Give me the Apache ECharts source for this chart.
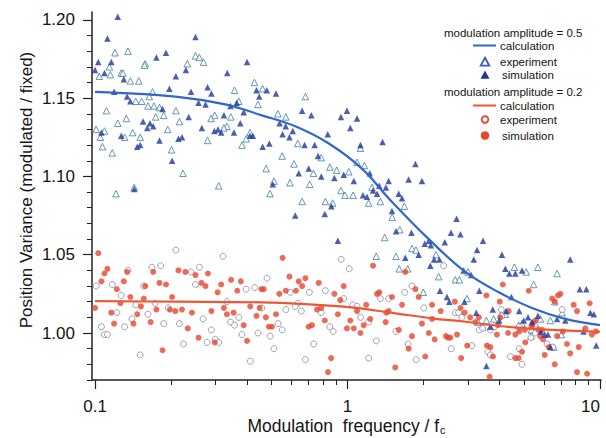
<!DOCTYPE html>
<html>
<head>
<meta charset="utf-8">
<script src="https://cdn.jsdelivr.net/npm/echarts@6/dist/echarts.min.js"></script>
<style>
html,body{margin:0;padding:0;background:#fff;}
#chart{width:606px;height:438px;}
</style>
</head>
<body>
<div id="chart"></div>
<script>
// ---------- data (frequency / f_c, position variance ratio) ----------
const xTickValues = [0.1, 1, 10];
const xTickLabels = ['0.1', '1', '10'];
const yTickValues = [1.00, 1.05, 1.10, 1.15, 1.20];
const yTickLabels = ['1.00', '1.05', '1.10', '1.15', '1.20'];

const blueCalc = [[0.100,1.154],[0.208,1.151],[0.328,1.146],[0.458,1.139],[0.621,1.132],[0.843,1.121],[1.140,1.105],[1.476,1.085],[2.128,1.059],[2.931,1.039],[3.972,1.026],[5.38,1.016],[7.29,1.009],[10.0,1.005]];
const redCalc = [[0.100,1.0204],[0.208,1.0200],[0.458,1.0196],[0.966,1.0168],[1.545,1.0126],[2.163,1.0094],[2.931,1.0072],[3.972,1.0045],[5.38,1.0027],[10.0,1.0008]];

const blueSim = [
[0.123,1.202],[0.112,1.188],[0.250,1.189],[0.191,1.179],[0.175,1.176],[0.103,1.173],[0.116,1.173],[0.100,1.168],[0.109,1.166],[0.130,1.162],
[0.229,1.168],[0.209,1.164],[0.400,1.173],[0.334,1.166],[0.197,1.156],[0.240,1.154],[0.279,1.157],[0.289,1.153],[0.436,1.155],[0.447,1.151],
[0.119,1.154],[0.134,1.151],[0.138,1.148],[0.185,1.143],[0.257,1.147],[0.274,1.146],[0.364,1.147],[0.344,1.145],[0.388,1.141],[0.235,1.138],
[0.324,1.139],[0.155,1.135],[0.165,1.134],[0.170,1.132],[0.161,1.131],[0.265,1.131],[0.376,1.134],[0.297,1.129],[0.307,1.130],[0.316,1.128],
[0.355,1.128],[0.106,1.128],[0.127,1.126],[0.214,1.124],[0.221,1.125],[0.180,1.123],[0.422,1.126],[0.411,1.126],[0.147,1.119],[0.151,1.120],
[0.202,1.110],[0.143,1.092],[0.479,1.155],[0.521,1.153],[0.661,1.142],[0.719,1.139],[0.538,1.134],[0.569,1.132],[0.607,1.129],[0.553,1.127],
[0.589,1.125],[0.995,1.142],[0.942,1.138],[1.091,1.137],[1.026,1.131],[0.835,1.127],[0.676,1.120],[0.741,1.120],[0.461,1.119],[0.490,1.121],
[1.125,1.120],[1.377,1.122],[0.764,1.113],[0.702,1.105],[1.225,1.102],[0.641,1.102],[0.787,1.100],[0.887,1.099],[0.966,1.101],[1.059,1.097],
[1.858,1.108],[1.746,1.098],[1.972,1.097],[1.455,1.097],[1.336,1.094],[1.419,1.093],[0.506,1.095],[1.262,1.091],[1.309,1.089],[1.151,1.088],
[1.194,1.087],[1.596,1.089],[1.644,1.086],[0.621,1.075],[0.813,1.076],[0.863,1.081],[1.500,1.078],[0.916,1.059],[1.556,1.065],[1.791,1.064],
[2.023,1.057],[2.099,1.059],[2.138,1.056],[1.914,1.050],[1.694,1.048],[2.128,1.043],[2.427,1.058],[3.44,1.059],[2.203,1.047],[2.312,1.047],
[4.09,1.050],[3.26,1.053],[3.162,1.047],[2.884,1.040],[3.090,1.037],[4.22,1.041],[4.375,1.038],[4.62,1.038],[4.91,1.040],[7.62,1.047],
[2.323,1.027],[3.327,1.027],[8.32,1.028],[8.83,1.028],[2.477,1.023],[2.53,1.020],[2.904,1.020],[3.76,1.015],[4.457,1.023],[4.786,1.014],
[3.236,1.013],[4.246,1.014],[3.99,1.008],[5.19,1.010],[5.675,1.011],[6.76,1.009],[7.29,1.008],[9.16,1.013],[9.46,1.012],[3.68,1.004],
[4.99,1.008],[5.38,1.007],[5.83,1.001],[6.04,0.999],[6.22,0.999],[8.61,1.001],[9.66,0.992],[6.36,0.991],[3.548,0.979],[2.704,1.073],
[2.570,1.064],[2.80,1.063]
];

const blueExp = [
[0.120,1.179],[0.135,1.180],[0.250,1.177],[0.259,1.176],[0.269,1.173],[0.158,1.172],[0.157,1.171],[0.114,1.170],[0.104,1.164],[0.115,1.165],
[0.127,1.166],[0.129,1.166],[0.138,1.161],[0.149,1.161],[0.232,1.172],[0.428,1.160],[0.169,1.154],[0.357,1.155],[0.145,1.148],[0.153,1.148],
[0.164,1.151],[0.162,1.145],[0.171,1.145],[0.180,1.144],[0.371,1.148],[0.442,1.146],[0.111,1.142],[0.209,1.142],[0.187,1.139],[0.174,1.138],
[0.345,1.138],[0.298,1.139],[0.288,1.137],[0.133,1.137],[0.123,1.134],[0.216,1.135],[0.333,1.132],[0.324,1.131],[0.194,1.130],[0.101,1.130],
[0.109,1.129],[0.105,1.125],[0.131,1.125],[0.141,1.128],[0.151,1.125],[0.279,1.123],[0.411,1.128],[0.397,1.124],[0.382,1.120],[0.107,1.119],
[0.117,1.115],[0.201,1.117],[0.223,1.102],[0.143,1.093],[0.121,1.089],[0.309,1.094],[0.461,1.156],[0.681,1.151],[0.530,1.140],[0.570,1.138],
[0.635,1.121],[1.125,1.118],[0.787,1.112],[0.551,1.113],[0.614,1.108],[0.476,1.105],[0.851,1.106],[0.906,1.104],[1.012,1.103],[1.091,1.109],
[1.167,1.107],[0.733,1.102],[0.511,1.097],[0.592,1.096],[0.708,1.095],[0.942,1.091],[0.977,1.088],[1.052,1.088],[0.493,1.089],[1.250,1.093],
[0.661,1.084],[0.817,1.084],[0.873,1.083],[1.213,1.083],[1.349,1.084],[1.679,1.081],[1.403,1.061],[1.611,1.066],[1.80,1.054],[1.866,1.053],
[1.300,1.049],[1.556,1.049],[1.730,1.041],[1.603,1.041],[1.995,1.026],[2.239,1.050],[2.296,1.036],[3.0,1.039],[4.58,1.042],[5.10,1.039],
[5.675,1.042],[6.76,1.038],[2.673,1.034],[2.773,1.034],[5.46,1.031],[2.972,1.022],[6.62,1.020],[4.064,1.012],[4.217,1.012],[3.548,1.008],
[3.793,1.009],[5.81,1.009],[6.36,1.008],[7.08,1.013],[3.289,1.007],[3.43,1.004],[4.764,1.005],[4.91,1.006],[5.35,1.002],[5.546,1.006],
[7.03,0.999],[6.56,0.991],[5.33,0.998],[1.503,1.074]
];

const redSim = [
[0.103,1.051],[0.112,1.041],[0.109,1.038],[0.106,1.033],[0.134,1.039],[0.130,1.033],[0.122,1.028],[0.138,1.023],[0.170,1.039],[0.158,1.030],
[0.180,1.032],[0.191,1.031],[0.214,1.040],[0.228,1.039],[0.250,1.037],[0.280,1.038],[0.264,1.032],[0.274,1.030],[0.316,1.031],[0.306,1.026],
[0.346,1.034],[0.378,1.033],[0.366,1.027],[0.456,1.028],[0.202,1.023],[0.152,1.017],[0.156,1.022],[0.100,1.016],[0.126,1.019],[0.412,1.017],
[0.175,1.015],[0.198,1.015],[0.208,1.014],[0.221,1.015],[0.242,1.013],[0.289,1.014],[0.324,1.016],[0.333,1.012],[0.354,1.013],[0.449,1.016],
[0.436,1.011],[0.116,1.013],[0.147,1.012],[0.142,1.006],[0.119,1.006],[0.166,1.007],[0.233,1.003],[0.388,1.005],[0.257,0.997],[0.298,0.994],
[0.400,0.995],[0.185,0.989],[0.553,1.048],[1.262,1.043],[1.694,1.039],[0.589,1.036],[0.681,1.035],[0.641,1.033],[0.661,1.030],[0.625,1.027],
[0.769,1.032],[0.966,1.030],[0.466,1.028],[0.570,1.027],[0.537,1.025],[0.887,1.025],[1.309,1.025],[1.336,1.026],[1.500,1.023],[1.858,1.028],
[1.914,1.023],[1.644,1.018],[0.936,1.021],[1.186,1.018],[0.757,1.015],[0.787,1.016],[1.091,1.014],[1.455,1.014],[1.425,1.013],[0.521,1.012],
[0.916,1.012],[0.475,1.010],[1.230,1.009],[0.813,1.008],[1.026,1.008],[1.416,1.007],[0.488,1.004],[0.502,1.004],[0.702,1.004],[0.723,1.005],
[1.972,1.006],[0.995,1.003],[1.059,1.003],[1.159,1.005],[1.125,1.000],[1.596,1.002],[2.099,1.000],[1.80,0.998],[1.746,0.990],[2.032,0.985],
[0.861,0.984],[1.545,0.978],[0.837,0.975],[4.12,1.031],[5.22,1.027],[3.548,1.024],[6.97,1.025],[6.82,1.024],[6.46,1.022],[6.62,1.020],
[4.009,1.020],[7.87,1.018],[9.10,1.019],[8.11,1.014],[2.661,1.020],[2.163,1.018],[2.339,1.014],[2.805,1.016],[2.911,1.013],[3.062,1.010],
[2.163,1.009],[4.345,1.014],[4.027,1.010],[3.311,1.010],[3.206,1.007],[3.945,1.005],[5.546,1.008],[5.41,1.006],[5.35,1.004],[5.715,1.002],
[4.786,1.001],[5.035,1.002],[5.89,1.002],[5.80,0.998],[5.95,0.996],[3.908,0.999],[4.325,1.000],[2.716,0.999],[2.455,0.998],[2.50,0.997],
[2.553,0.997],[4.62,0.999],[8.75,1.003],[9.64,1.001],[2.213,0.996],[6.76,0.998],[7.40,0.993],[7.13,1.001],[9.29,0.999],[2.979,0.992],
[5.06,0.994],[6.27,0.991],[3.565,0.992],[3.68,0.991],[8.24,0.991],[3.767,0.985],[4.91,0.988],[4.62,0.984],[4.764,0.984],[6.04,0.986],
[7.62,0.987],[2.818,0.984],[6.62,0.980],[8.11,0.975],[8.89,0.974],[3.656,0.972]
];

const redExp = [
[0.209,1.053],[0.321,1.049],[0.168,1.042],[0.182,1.043],[0.101,1.030],[0.135,1.040],[0.117,1.031],[0.127,1.024],[0.156,1.030],[0.240,1.039],
[0.259,1.042],[0.250,1.031],[0.397,1.028],[0.429,1.029],[0.173,1.019],[0.145,1.018],[0.333,1.020],[0.195,1.016],[0.371,1.010],[0.122,1.013],
[0.162,1.012],[0.140,1.009],[0.268,1.009],[0.131,1.004],[0.106,1.004],[0.187,1.006],[0.216,1.006],[0.344,1.007],[0.357,1.005],[0.109,0.999],
[0.112,0.999],[0.289,1.002],[0.382,0.999],[0.442,1.000],[0.278,0.994],[0.299,0.996],[0.309,0.994],[0.224,0.993],[0.151,0.986],[0.412,0.982],
[0.944,1.047],[1.016,1.041],[0.480,1.035],[0.593,1.026],[0.706,1.026],[0.817,1.027],[1.349,1.022],[1.455,1.022],[1.80,1.030],[1.687,1.026],
[0.966,1.022],[0.637,1.019],[0.621,1.017],[1.049,1.018],[1.091,1.017],[0.570,1.015],[0.656,1.014],[0.787,1.013],[0.458,1.016],[2.004,1.016],
[1.127,1.010],[1.213,1.007],[0.531,1.006],[0.851,1.004],[0.551,1.002],[0.877,1.001],[1.556,1.001],[0.494,0.998],[1.300,0.995],[0.735,0.993],
[1.738,0.993],[0.511,0.990],[1.871,0.983],[0.681,0.983],[1.213,0.984],[2.404,1.043],[7.08,1.015],[2.673,1.013],[2.754,1.013],[2.84,1.010],
[4.064,1.015],[4.09,1.011],[3.327,1.002],[3.43,1.003],[3.68,1.002],[3.83,1.004],[5.546,1.000],[4.786,1.004],[5.33,0.997],[3.112,0.992],
[6.17,0.993],[6.50,0.991],[2.576,0.990],[3.597,0.988],[3.68,0.986],[4.416,0.985],[4.786,0.990],[4.91,0.980]
];

// ---------- chart ----------
const FONT = '"Liberation Sans", Arial, Helvetica, sans-serif';
const TXT = '#141414';
const AX = '#222';
const BLUE_LINE = '#2f67cc';
const BLUE_FILL = '#1f379a';
const BLUE_HOLLOW = '#3d7fa6';
const RED_FILL = '#e8452c';
const RED_LINE = '#ee5733';
const GREY_HOLLOW = '#8a88a4';

const lg = v => Math.log10(v);
const toXY = arr => arr.map(p => [lg(p[0]), p[1]]);

const X_MIN = -1.012, X_MAX = 1.004;
const Y_MIN = 0.97, Y_MAX = 1.205;

const xMinor = [];
[0.1, 1].forEach(d => { for (let m = 2; m <= 9; m++) xMinor.push(lg(d * m)); });
const yMinor = [];
for (let i = 97; i <= 120; i++) yMinor.push(i / 100);

const findLabel = (vals, labels, v, tr) => {
  for (let i = 0; i < vals.length; i++) if (Math.abs(tr(vals[i]) - v) < 1e-6) return labels[i];
  return '';
};

const gridRect = { left: 92, right: 5, top: 12, bottom: 58, containLabel: false, outerBoundsMode: 'none' };

const option = {
  animation: false,
  backgroundColor: '#fff',
  grid: [Object.assign({}, gridRect), Object.assign({}, gridRect)],
  xAxis: [
    {
      type: 'value', gridIndex: 0, min: X_MIN, max: X_MAX, position: 'bottom',
      axisLine: { show: true, onZero: false, lineStyle: { color: AX, width: 1.5 } },
      axisTick: { show: true, customValues: xTickValues.map(lg), length: 9, lineStyle: { color: AX, width: 1.2 } },
      axisLabel: {
        customValues: xTickValues.map(lg), margin: 18, fontSize: 17, lineHeight: 17, fontFamily: FONT, color: TXT,
        alignMaxLabel: 'right',
        formatter: v => findLabel(xTickValues, xTickLabels, v, lg)
      },
      splitLine: { show: false },
      name: 'Modulation  frequency / f{sub|c}',
      nameLocation: 'middle', nameGap: 37, nameMoveOverlap: false,
      nameTextStyle: {
        fontSize: 17.5, lineHeight: 18, fontFamily: FONT, color: TXT,
        rich: { sub: { fontSize: 11, lineHeight: 11, fontFamily: FONT, color: TXT, verticalAlign: 'bottom', padding: [0, 0, 0, 1] } }
      }
    },
    {
      type: 'value', gridIndex: 1, min: X_MIN, max: X_MAX, position: 'bottom',
      axisLine: { show: false, onZero: false },
      axisTick: { show: true, customValues: xMinor, length: 5, lineStyle: { color: AX, width: 1 } },
      axisLabel: { show: false },
      splitLine: { show: false }
    }
  ],
  yAxis: [
    {
      type: 'value', gridIndex: 0, min: Y_MIN, max: Y_MAX, position: 'left',
      axisLine: { show: true, onZero: false, lineStyle: { color: AX, width: 1.5 } },
      axisTick: { show: true, customValues: yTickValues, length: 9, lineStyle: { color: AX, width: 1.2 } },
      axisLabel: {
        customValues: yTickValues, margin: 17, fontSize: 17, fontFamily: FONT, color: TXT,
        formatter: v => findLabel(yTickValues, yTickLabels, v, t => t)
      },
      splitLine: { show: false }
    },
    {
      type: 'value', gridIndex: 1, min: Y_MIN, max: Y_MAX, position: 'left',
      axisLine: { show: false, onZero: false },
      axisTick: { show: true, customValues: yMinor, length: 5, lineStyle: { color: AX, width: 1 } },
      axisLabel: { show: false },
      splitLine: { show: false }
    }
  ],
  series: [
    {
      name: 'experiment (0.5)', type: 'scatter', xAxisIndex: 0, yAxisIndex: 0,
      symbol: 'triangle', symbolSize: 6.5,
      itemStyle: { color: '#ffffff', borderColor: BLUE_HOLLOW, borderWidth: 1 },
      data: toXY(blueExp), z: 2
    },
    {
      name: 'experiment (0.2)', type: 'scatter', xAxisIndex: 0, yAxisIndex: 0,
      symbol: 'circle', symbolSize: 6,
      itemStyle: { color: '#ffffff', borderColor: GREY_HOLLOW, borderWidth: 1 },
      data: toXY(redExp), z: 2
    },
    {
      name: 'simulation (0.2)', type: 'scatter', xAxisIndex: 0, yAxisIndex: 0,
      symbol: 'circle', symbolSize: 6,
      itemStyle: { color: RED_FILL },
      data: toXY(redSim), z: 3
    },
    {
      name: 'simulation (0.5)', type: 'scatter', xAxisIndex: 0, yAxisIndex: 0,
      symbol: 'triangle', symbolSize: 6.5,
      itemStyle: { color: BLUE_FILL },
      data: toXY(blueSim), z: 3
    },
    {
      name: 'calculation (0.5)', type: 'line', xAxisIndex: 0, yAxisIndex: 0,
      smooth: 0.4, showSymbol: false, symbol: 'none',
      lineStyle: { color: BLUE_LINE, width: 2.2 },
      data: toXY(blueCalc), z: 4
    },
    {
      name: 'calculation (0.2)', type: 'line', xAxisIndex: 0, yAxisIndex: 0,
      smooth: 0.4, showSymbol: false, symbol: 'none',
      lineStyle: { color: RED_LINE, width: 2.2 },
      data: toXY(redCalc), z: 4
    }
  ],
  graphic: [
    { type: 'text', x: 26.5, y: 190, rotation: Math.PI / 2,
      style: { text: 'Position Variance (modulated / fixed)', fill: TXT, fontSize: 17, fontFamily: FONT, align: 'center', verticalAlign: 'middle' } },
    { type: 'text', x: 444, y: 33, style: { text: 'modulation amplitude = 0.5', fill: TXT, fontSize: 11.5, fontFamily: FONT, verticalAlign: 'middle' } },
    { type: 'line', shape: { x1: 473, y1: 45.5, x2: 496, y2: 45.5 }, style: { stroke: BLUE_LINE, lineWidth: 2 } },
    { type: 'text', x: 500, y: 46, style: { text: 'calculation', fill: TXT, fontSize: 11.5, fontFamily: FONT, verticalAlign: 'middle' } },
    { type: 'polygon', shape: { points: [[485, 57.8], [489.3, 65.6], [480.7, 65.6]] }, style: { fill: '#fff', stroke: '#2f5fc0', lineWidth: 1.8 } },
    { type: 'text', x: 500, y: 62, style: { text: 'experiment', fill: TXT, fontSize: 11.5, fontFamily: FONT, verticalAlign: 'middle' } },
    { type: 'polygon', shape: { points: [[485, 70.5], [489.5, 78.8], [480.5, 78.8]] }, style: { fill: BLUE_FILL } },
    { type: 'text', x: 502, y: 75, style: { text: 'simulation', fill: TXT, fontSize: 11.5, fontFamily: FONT, verticalAlign: 'middle' } },
    { type: 'text', x: 444, y: 92, style: { text: 'modulation amplitude = 0.2', fill: TXT, fontSize: 11.5, fontFamily: FONT, verticalAlign: 'middle' } },
    { type: 'line', shape: { x1: 473, y1: 105.5, x2: 496, y2: 105.5 }, style: { stroke: RED_LINE, lineWidth: 2 } },
    { type: 'text', x: 500, y: 106, style: { text: 'calculation', fill: TXT, fontSize: 11.5, fontFamily: FONT, verticalAlign: 'middle' } },
    { type: 'circle', shape: { cx: 485, cy: 119.5, r: 3.3 }, style: { fill: '#fff', stroke: RED_FILL, lineWidth: 1.8 } },
    { type: 'text', x: 500, y: 120, style: { text: 'experiment', fill: TXT, fontSize: 11.5, fontFamily: FONT, verticalAlign: 'middle' } },
    { type: 'circle', shape: { cx: 485, cy: 135.5, r: 4.3 }, style: { fill: RED_FILL } },
    { type: 'text', x: 502, y: 136, style: { text: 'simulation', fill: TXT, fontSize: 11.5, fontFamily: FONT, verticalAlign: 'middle' } }
  ]
};

const chart = echarts.init(document.getElementById('chart'), null, { renderer: 'svg', width: 606, height: 438 });
chart.setOption(option);
</script>
</body>
</html>
